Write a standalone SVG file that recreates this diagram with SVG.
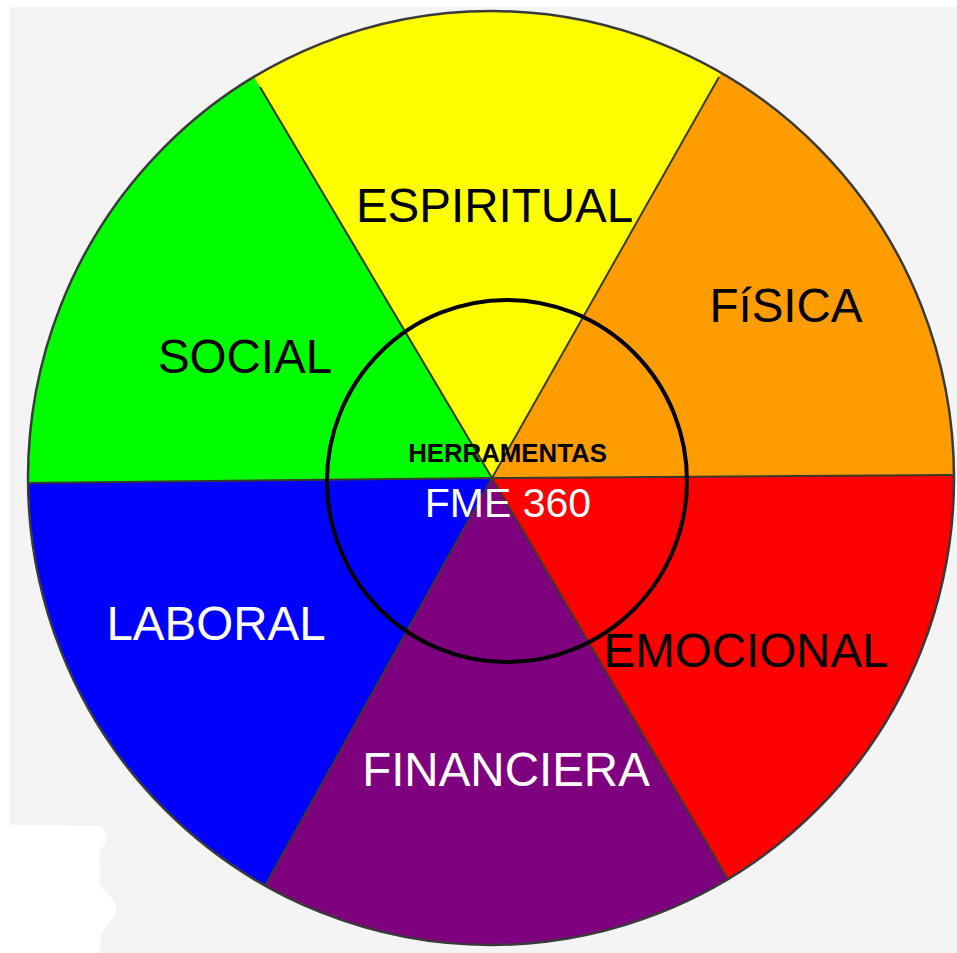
<svg xmlns="http://www.w3.org/2000/svg" width="957" height="953" viewBox="0 0 957 953">
  <style>
    .lbl { font-family: "Liberation Sans", Arial, sans-serif; font-size: 47.5px; text-anchor: middle; }
    .blk { fill: #000; }
    .wht { fill: #fff; }
    .spoke { stroke: #3a3a2a; stroke-width: 2; fill: none; }
  </style>
  <defs>
    <clipPath id="wheelClip">
      <ellipse cx="491" cy="478" rx="463" ry="467"/>
    </clipPath>
  </defs>
  <rect x="0" y="0" width="957" height="953" fill="#ffffff"/>
  <rect x="10" y="7" width="947" height="946" fill="#f4f4f4"/>
  <path d="M10,825 L100,826 Q108,832 106,842 L100,850 Q97,860 100,870 L99,885 Q110,895 116,905 Q118,915 108,925 L100,935 Q102,945 98,953 L10,953 Z" fill="#ffffff"/>

  <g id="wheel" clip-path="url(#wheelClip)">
    <g id="espiritual-sector"><polygon points="492,478 28,-304 946,-324" fill="#ffff00"/></g>
    <g id="fisica-sector"><polygon points="492,478 946,-324 1416,-324 1416,472" fill="#ff9c00"/></g>
    <g id="emocional-sector"><polygon points="492,478 1416,472 966,1284" fill="#ff0000"/></g>
    <g id="financiera-sector"><polygon points="492,478 966,1284 38,1294" fill="#7f007f"/></g>
    <g id="laboral-sector"><polygon points="492,478 38,1294 -436,488" fill="#0000ff"/></g>
    <g id="social-sector"><polygon points="492,478 -436,488 28,-304" fill="#00ff00"/></g>
    <g id="spokes">
      <line class="spoke" x1="492" y1="478" x2="260" y2="87"/>
      <line class="spoke" x1="492" y1="478" x2="719" y2="77"/>
      <line class="spoke" x1="492" y1="478" x2="954" y2="475"/>
      <line class="spoke" x1="492" y1="478" x2="729" y2="881"/>
      <line class="spoke" x1="492" y1="478" x2="265" y2="886"/>
      <line class="spoke" x1="492" y1="478" x2="28" y2="483"/>
    </g>
  </g>
  <ellipse id="wheel-outline" cx="491" cy="478" rx="463" ry="467" fill="none" stroke="#3a3a3a" stroke-width="2.5"/>

  <g id="label-espiritual"><text class="lbl blk" x="494.5" y="222">ESPIRITUAL</text></g>
  <g id="label-fisica"><text class="lbl blk" x="786" y="322">FíSICA</text></g>
  <g id="label-social"><text class="lbl blk" x="245" y="373">SOCIAL</text></g>
  <g id="label-laboral"><text class="lbl wht" x="216" y="640">LABORAL</text></g>
  <g id="label-emocional"><text class="lbl blk" x="746" y="667">EMOCIONAL</text></g>
  <g id="label-financiera"><text class="lbl wht" x="506" y="786">FINANCIERA</text></g>

  <g id="center">
    <ellipse cx="507" cy="481" rx="180" ry="181" fill="none" stroke="#000" stroke-width="4"/>
    <text x="507.5" y="462" font-family="'Liberation Sans', Arial, sans-serif" font-weight="bold" font-size="25.8" text-anchor="middle" fill="#000">HERRAMENTAS</text>
    <text x="508" y="517" font-family="'Liberation Sans', Arial, sans-serif" font-size="41" text-anchor="middle" fill="#fff">FME 360</text>
  </g>
</svg>
